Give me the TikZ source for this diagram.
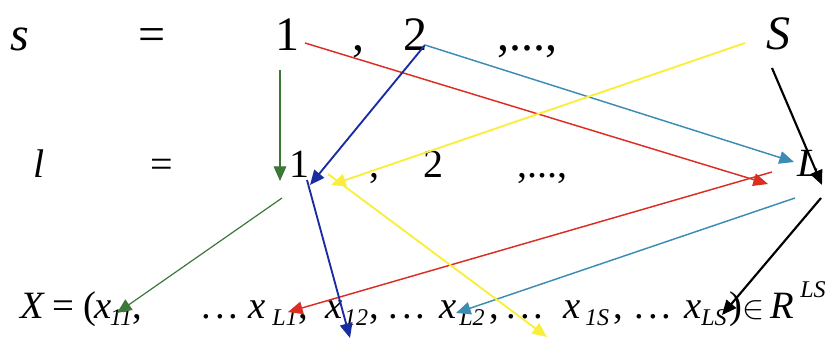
\documentclass[tikz,border=0pt]{standalone}
\usepackage{fontspec}
\setmainfont{Liberation Serif}
\usetikzlibrary{arrows.meta}
\definecolor{cred}{RGB}{220,45,35}
\definecolor{cteal}{RGB}{60,140,180}
\definecolor{cblue}{RGB}{25,45,160}
\definecolor{cyel}{RGB}{250,238,60}
\definecolor{cgreen}{RGB}{60,120,55}
\begin{document}
\begin{tikzpicture}[x=0.75pt,y=-0.75pt,
  every node/.style={inner sep=0pt,outer sep=0pt,anchor=base},
  big/.style={font=\fontsize{36}{40}\selectfont},
  mid/.style={font=\fontsize{30}{34}\selectfont},
  row/.style={font=\fontsize{29}{32}\selectfont},
  sub/.style={font=\fontsize{18}{22}\selectfont\itshape},
  arr/.style={-{Triangle[length=11pt,width=9.5pt]},line width=1.1pt}]
\useasboundingbox (0,0) rectangle (829,340);
% row 1
\node[big] (s) at (20,50) {\itshape s};
\node[big] (eq1) at (152,50) {=};
\node[big] (s1) at (287,50) {1};
\node[big] (c1) at (358,50) {,};
\node[big] (s2) at (415,50) {2};
\node[big] (d1) at (527,50) {,...,};
\node[big] (sS) at (778,49) {\itshape S};
% row 2
\node[mid] (l) at (39,177) {\itshape l};
\node[mid] (eq2) at (162,177) {=};
\node[mid] (l1) at (299,177) {1};
\node[mid] (c2) at (374,177) {,};
\node[mid] (l2) at (433,177) {2};
\node[mid] (d2) at (542,177) {,...,};
\node[mid] (lL) at (809,176) {\itshape L};
% row 3
\node[row] (X) at (32,318) {\itshape X};
\node[row] (eq3) at (63,318) {=};
\node[row] (par) at (90,318) {(};
\node[row] (x11) at (103,318) {\itshape x};
\node[sub] (s11) at (121,325) {11};
\node[row] (k1) at (137,318) {,};
\node[row] (e1) at (220,318) {.\kern3pt.\kern3pt.};
\node[row] (xL1) at (257,318) {\itshape x};
\node[sub] (sL1) at (285,325) {L1};
\node[row] (k2) at (303,318) {,};
\node[row] (x12) at (334,318) {\itshape x};
\node[sub] (s12) at (356,325) {12};
\node[row] (k3) at (374,318) {,};
\node[row] (e2) at (407,318) {.\kern3pt.\kern3pt.};
\node[row] (xL2) at (448,318) {\itshape x};
\node[sub] (sL2) at (472,325) {L2};
\node[row] (k4) at (494,318) {,};
\node[row] (e3) at (525,318) {.\kern3pt.\kern3pt.};
\node[row] (x1S) at (572,318) {\itshape x};
\node[sub] (s1S) at (597,325) {1S};
\node[row] (k5) at (618,318) {,};
\node[row] (e4) at (653,318) {.\kern3pt.\kern3pt.};
\node[row] (xLS) at (693,318) {\itshape x};
\node[sub] (sLS) at (714,325) {LS};
\node[row] (rp) at (736,318) {)};
\node[row] (in) at (754,318) {$\in$};
\node[row] (R) at (782,318) {\itshape R};
\node[sub] (sup) at (813,297) {LS};
% connector ends
\coordinate (g1a) at (280,70);   \coordinate (g1b) at (280,181);
\coordinate (g2a) at (282,198);  \coordinate (g2b) at (117,313);
\coordinate (r1a) at (305,43);   \coordinate (r1b) at (768,184);
\coordinate (r2a) at (772,172);  \coordinate (r2b) at (288,312);
\coordinate (b1a) at (425,45);   \coordinate (b1b) at (310,185);
\coordinate (b2a) at (307,180);  \coordinate (b2b) at (350,338);
\coordinate (t1a) at (425,45);   \coordinate (t1b) at (794,162);
\coordinate (t2a) at (795,198);  \coordinate (t2b) at (456,313);
\coordinate (y1a) at (745,43);   \coordinate (y1b) at (331,185);
\coordinate (y2a) at (328,174);  \coordinate (y2b) at (547,337);
\coordinate (k1a) at (772,68);   \coordinate (k1b) at (822,185);
\coordinate (k2a) at (821,198);  \coordinate (k2b) at (722,315);
% connectors
\draw[arr,cgreen,line width=0.9pt] (g1a) -- (g1b);
\draw[arr,cgreen,line width=0.9pt] (g2a) -- (g2b);
\draw[arr,cred] (r1a) -- (r1b);
\draw[arr,cred] (r2a) -- (r2b);
\draw[arr,cblue,line width=1.4pt] (b1a) -- (b1b);
\draw[arr,cblue,line width=1.4pt] (b2a) -- (b2b);
\draw[arr,cteal] (t1a) -- (t1b);
\draw[arr,cteal] (t2a) -- (t2b);
\draw[arr,cyel,line width=1.4pt] (y1a) -- (y1b);
\draw[arr,cyel,line width=1.4pt] (y2a) -- (y2b);
\draw[arr,black,line width=1.6pt] (k1a) -- (k1b);
\draw[arr,black,line width=1.6pt] (k2a) -- (k2b);
\end{tikzpicture}
\end{document}
